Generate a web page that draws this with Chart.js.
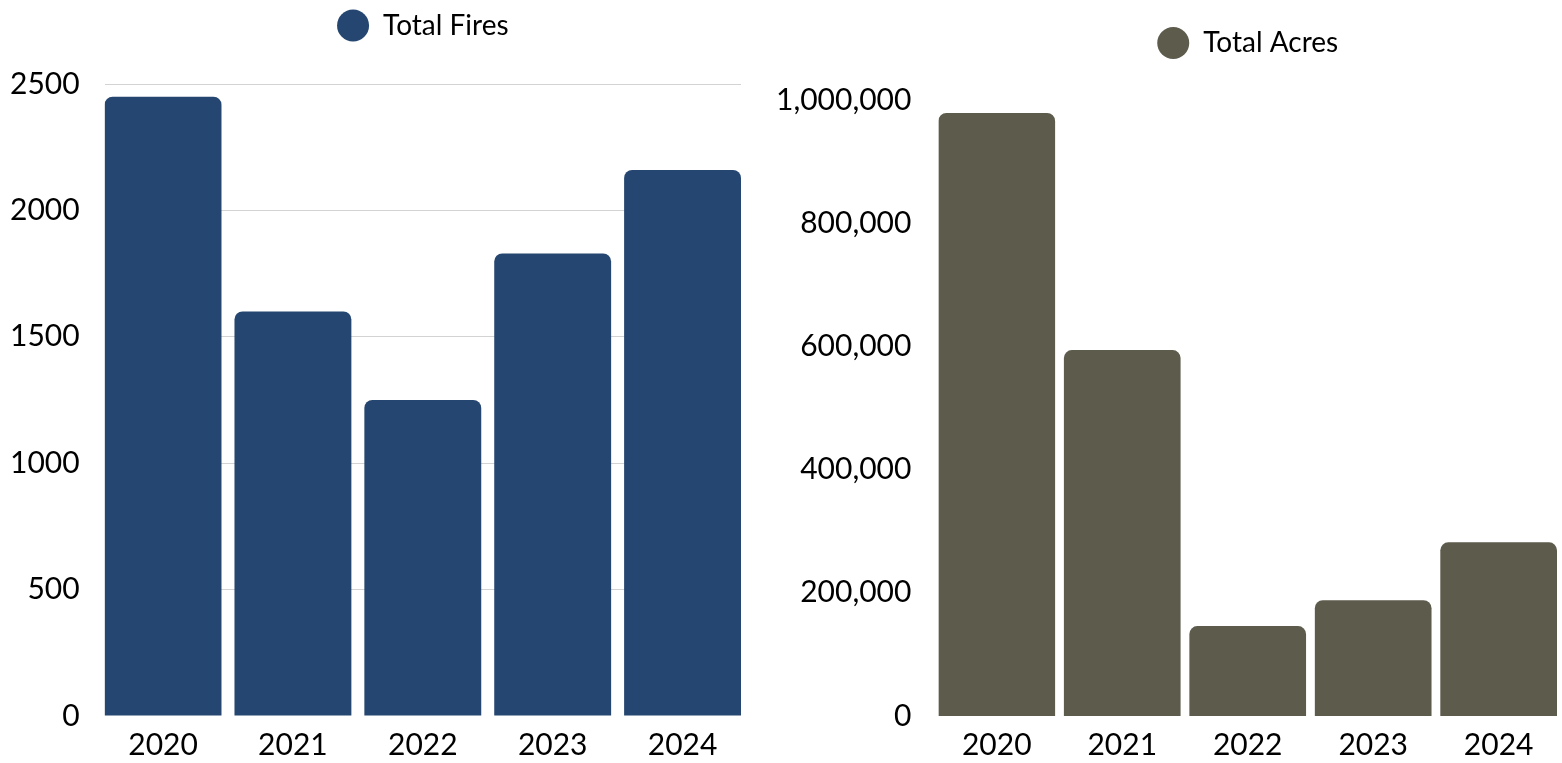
<!DOCTYPE html>
<html>
<head>
<meta charset="utf-8">
<script src="https://cdn.jsdelivr.net/npm/chart.js@4.4.1/dist/chart.umd.min.js"></script>
<style>
  html, body { margin: 0; padding: 0; background: #ffffff; }
  body { width: 1562px; height: 763px; position: relative; overflow: hidden; }
  canvas { position: absolute; top: 0; }
  #fires { left: 0; }
  #acres { left: 770px; }
</style>
</head>
<body>
<canvas id="fires" width="760" height="763"></canvas>
<canvas id="acres" width="792" height="763"></canvas>
<script>
const years = [2020, 2021, 2022, 2023, 2024];
const totalFires = [2450, 1600, 1250, 1830, 2160];
const totalAcres = [979000, 594000, 146000, 188000, 282000];
const firesTicks = [0, 500, 1000, 1500, 2000, 2500];
const acresTicks = [0, 200000, 400000, 600000, 800000, 1000000];

const FONT = 'Lato, "Open Sans", sans-serif';
Chart.defaults.font.family = FONT;
Chart.defaults.color = '#000000';

// adds blank space below the legend row so the plot starts lower
const legendSpacer = {
  id: 'legendSpacer',
  afterInit(chart, args, opts) {
    const lg = chart.legend;
    if (!lg) return;
    const fit = lg.fit;
    lg.fit = function () {
      fit.call(this);
      this.height += opts.extra || 0;
    };
  }
};

function makeChart(id, label, values, color, yTicks, opts) {
  const tickFont = { family: FONT, size: 30 };
  return new Chart(document.getElementById(id), {
    type: 'bar',
    data: {
      datasets: [{
        label: label,
        data: values.map((v, i) => ({ x: years[i], y: v })),
        backgroundColor: color,
        borderRadius: 8,
        barPercentage: opts.barPct,
        categoryPercentage: 1
      }]
    },
    plugins: [legendSpacer],
    options: {
      responsive: false,
      animation: false,
      devicePixelRatio: 1,
      layout: { padding: opts.padding },
      plugins: {
        legendSpacer: { extra: opts.legendExtra },
        legend: {
          display: true,
          position: 'top',
          fullSize: false,
          labels: {
            usePointStyle: true,
            pointStyle: 'circle',
            pointStyleWidth: 32,
            boxHeight: 22.6,
            color: '#000000',
            font: { family: FONT, size: 28 },
            padding: 10
          }
        },
        tooltip: { enabled: false }
      },
      scales: {
        x: {
          type: 'linear',
          min: years[0] - opts.half,
          max: years[years.length - 1] + opts.half,
          offset: false,
          grid: { display: false, drawTicks: false },
          border: { display: false },
          afterBuildTicks: (s) => {
            s.ticks = years.map(v => ({ value: v }));
          },
          afterFit: (s) => { s.height -= s.options.ticks.padding; },
          ticks: {
            autoSkip: false,
            maxRotation: 0,
            padding: 11,
            color: '#000000',
            font: tickFont,
            callback: (v) => String(v)
          }
        },
        y: {
          min: yTicks[0],
          max: yTicks[yTicks.length - 1],
          afterBuildTicks: (s) => {
            s.ticks = yTicks.map(v => ({ value: v }));
          },
          afterFit: (s) => { s.width -= s.options.ticks.padding; },
          grid: {
            display: opts.grid,
            color: (c) => (c.tick && c.tick.value === 0) ? 'rgba(0,0,0,0)' : '#d3d3d3',
            lineWidth: 1,
            drawTicks: false
          },
          border: { display: false },
          ticks: {
            padding: opts.tickPad,
            color: '#000000',
            font: tickFont,
            callback: opts.fmt
          }
        }
      }
    }
  });
}

makeChart('fires', 'Total Fires', totalFires, '#254670', firesTicks, {
  barPct: 0.9, half: 0.45, grid: true, tickPad: 25, legendExtra: 34.5,
  fmt: (v) => String(v),
  padding: { left: 10, right: 19, top: 1.5, bottom: 0 }
});
makeChart('acres', 'Total Acres', totalAcres, '#5d5b4c', acresTicks, {
  barPct: 0.93, half: 0.465, grid: false, tickPad: 27, legendExtra: 33,
  fmt: (v) => Number(v).toLocaleString('en-US'),
  padding: { left: 6, right: 5, top: 19, bottom: 0 }
});
</script>
</body>
</html>
